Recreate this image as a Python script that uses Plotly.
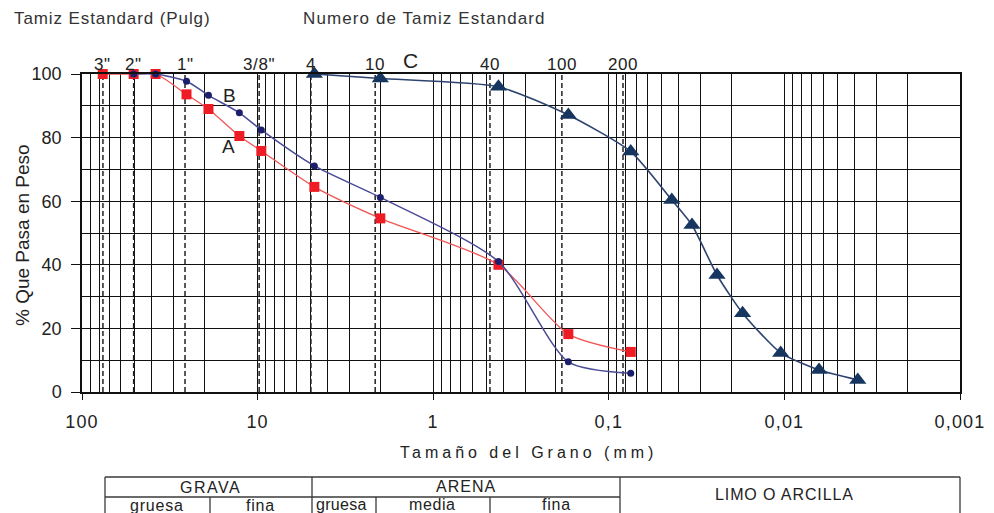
import math
import plotly.graph_objects as go

# ---------------- data ----------------
sizes_A = [76.2, 50.8, 38.1, 25.4, 19.05, 12.7, 9.525, 4.75, 2.0, 0.425, 0.17, 0.075]
pass_A = [100, 100, 100, 93.6, 89.0, 80.5, 75.8, 64.5, 54.6, 40.0, 18.2, 12.6]

sizes_B = [50.8, 38.1, 25.4, 19.05, 12.7, 9.525, 4.75, 2.0, 0.425, 0.17, 0.075]
pass_B = [100, 100, 97.7, 93.3, 87.8, 82.4, 71.1, 61.2, 41.0, 9.5, 5.9]

sizes_C = [4.75, 2.0, 0.425, 0.17, 0.075, 0.0438, 0.0336, 0.0242, 0.0173, 0.0105, 0.00635, 0.00382]
pass_C = [100, 98.6, 96.0, 87.1, 75.6, 60.4, 52.5, 36.8, 24.8, 12.3, 6.9, 3.8]

sieve_labels = ['3"', '2"', '1"', '3/8"', '4', '10', '40', '100', '200']
sieve_sizes = [76, 50.8, 25.9, 9.8, 4.97, 2.14, 0.475, 0.185, 0.083]

x_tick_vals = [100, 10, 1, 0.1, 0.01, 0.001]
x_tick_text = ['100', '10', '1', '0,1', '0,01', '0,001']
y_tick_vals = [0, 20, 40, 60, 80, 100]
y_minor_vals = [10, 30, 50, 70, 90]

# ---------------- layout helpers ----------------
W, H = 994, 513
L, R, T, B = 82, 960, 74, 392


def px(x):
    return (x - L) / (R - L)


def py(y):
    return (B - y) / (B - T)


def spaced(txt, ls):
    return '<span style="letter-spacing:%spx">%s</span>' % (ls, txt)


FONT = "Liberation Sans, Arial, sans-serif"
GRID = "#111111"

minor_x = []
for e in range(-3, 2):
    for m in range(2, 10):
        minor_x.append(m * 10 ** e)

fig = go.Figure()

# dashed sieve lines
for s in sieve_sizes:
    fig.add_trace(go.Scatter(x=[s, s], y=[0, 100], mode="lines",
                             line=dict(color="#222222", width=1.5, dash="5px,3px"),
                             hoverinfo="skip", showlegend=False))

fig.add_trace(go.Scatter(x=sizes_A, y=pass_A, mode="lines+markers", name="A",
                         line=dict(color="#F25555", width=1.3, shape="spline", smoothing=0.7),
                         marker=dict(symbol="square", size=10, color="#EE1C25"),
                         showlegend=False, cliponaxis=False))
fig.add_trace(go.Scatter(x=sizes_B, y=pass_B, mode="lines+markers", name="B",
                         line=dict(color="#4A4C96", width=1.5, shape="spline", smoothing=0.7),
                         marker=dict(symbol="circle", size=7, color="#1C1F6C"),
                         showlegend=False, cliponaxis=False))
fig.add_trace(go.Scatter(x=sizes_C, y=pass_C, mode="lines+markers", name="C",
                         line=dict(color="#2E4470", width=1.6, shape="spline", smoothing=0.6),
                         marker=dict(symbol="triangle-up", size=15, color="#17365F"),
                         showlegend=False, cliponaxis=False))

annotations = []
# sieve labels
for lab, s in zip(sieve_labels, sieve_sizes):
    annotations.append(dict(xref="x", yref="paper", x=math.log10(s), y=py(64),
                            text=spaced(lab, 0.6), showarrow=False, xanchor="center", yanchor="middle",
                            font=dict(family=FONT, size=17, color="#222222")))

# curve labels
for txt, xx, yy, sz in [("B", 229, 95, 19), ("A", 228, 146, 19), ("C", 410, 61, 21)]:
    annotations.append(dict(xref="paper", yref="paper", x=px(xx), y=py(yy), text=txt,
                            showarrow=False, xanchor="center", yanchor="middle",
                            font=dict(family=FONT, size=sz, color="#222222")))

# headers
annotations.append(dict(xref="paper", yref="paper", x=px(12), y=py(19),
                        text=spaced("Tamiz Estandard (Pulg)", 0.9),
                        showarrow=False, xanchor="left", yanchor="middle",
                        font=dict(family=FONT, size=17, color="#333333")))
annotations.append(dict(xref="paper", yref="paper", x=px(301), y=py(19),
                        text=spaced("Numero de Tamiz Estandard", 1.1),
                        showarrow=False, xanchor="left", yanchor="middle",
                        font=dict(family=FONT, size=17, color="#333333")))

# axis titles
annotations.append(dict(xref="paper", yref="paper", x=px(22), y=py(235), text="% Que Pasa en Peso",
                        textangle=-90, showarrow=False, xanchor="center", yanchor="middle",
                        font=dict(family=FONT, size=19, color="#222222")))
annotations.append(dict(xref="paper", yref="paper", x=px(528), y=py(452),
                        text=spaced("Tamaño del Grano (mm)", 4),
                        showarrow=False, xanchor="center", yanchor="middle",
                        font=dict(family=FONT, size=16, color="#222222")))

# table texts
for txt, xx, yy, anchor, ls in [("GRAVA", 210, 487, "center", 1.5), ("ARENA", 466, 486, "center", 1.0),
                                ("gruesa", 157, 505, "center", 0.8), ("fina", 260, 505, "center", 0.8),
                                ("gruesa", 314, 504, "left", 0.3), ("media", 432, 504, "center", 0.6),
                                ("fina", 556, 504, "center", 0.8), ("LIMO O ARCILLA", 784, 494, "center", 0.9)]:
    annotations.append(dict(xref="paper", yref="paper", x=px(xx), y=py(yy), text=spaced(txt, ls),
                            showarrow=False, xanchor=anchor, yanchor="middle",
                            font=dict(family=FONT, size=16, color="#222222")))

# table lines
shapes = []
TL = dict(color="#3a3a3a", width=1.3)
bottom = 520
for (x0, y0, x1, y1) in [(105, 477, 960, 477), (105, 497, 620, 497),
                         (105, 477, 105, bottom), (312, 477, 312, bottom), (620, 477, 620, bottom),
                         (960, 477, 960, bottom), (210, 497, 210, bottom), (376, 497, 376, bottom),
                         (490, 497, 490, bottom)]:
    shapes.append(dict(type="line", xref="paper", yref="paper", x0=px(x0), y0=py(y0),
                       x1=px(x1), y1=py(y1), line=TL))

fig.update_layout(
    width=W, height=H,
    margin=dict(l=L, r=W - R, t=T, b=H - B, pad=0, autoexpand=False),
    paper_bgcolor="white", plot_bgcolor="white",
    font=dict(family=FONT, size=17, color="#222222"),
    annotations=annotations, shapes=shapes,
    xaxis=dict(type="log", range=[2, -3], tickmode="array", tickvals=x_tick_vals,
               ticktext=[spaced(t, 1.2) for t in x_tick_text], automargin=False,
               showgrid=True, gridcolor=GRID, gridwidth=1.3,
               showline=True, linecolor="#111111", linewidth=1.5, mirror=True,
               ticks="outside", ticklen=6, tickcolor="#111111", tickwidth=1.3,
               ticklabelstandoff=7, tickfont=dict(family=FONT, size=18),
               minor=dict(tickmode="array", tickvals=minor_x, showgrid=True, gridcolor=GRID,
                          gridwidth=1.3, ticks=""),
               zeroline=False),
    yaxis=dict(range=[0, 100], tickmode="array", tickvals=y_tick_vals, automargin=False,
               showgrid=True, gridcolor=GRID, gridwidth=1.3,
               showline=True, linecolor="#111111", linewidth=1.5, mirror=True,
               ticks="outside", ticklen=9, tickcolor="#111111", tickwidth=1.3,
               ticklabelstandoff=6, tickfont=dict(family=FONT, size=18),
               minor=dict(tickmode="array", tickvals=y_minor_vals, showgrid=True, gridcolor=GRID,
                          gridwidth=1.3, ticks=""),
               zeroline=False),
)

fig.write_html("out.html")
